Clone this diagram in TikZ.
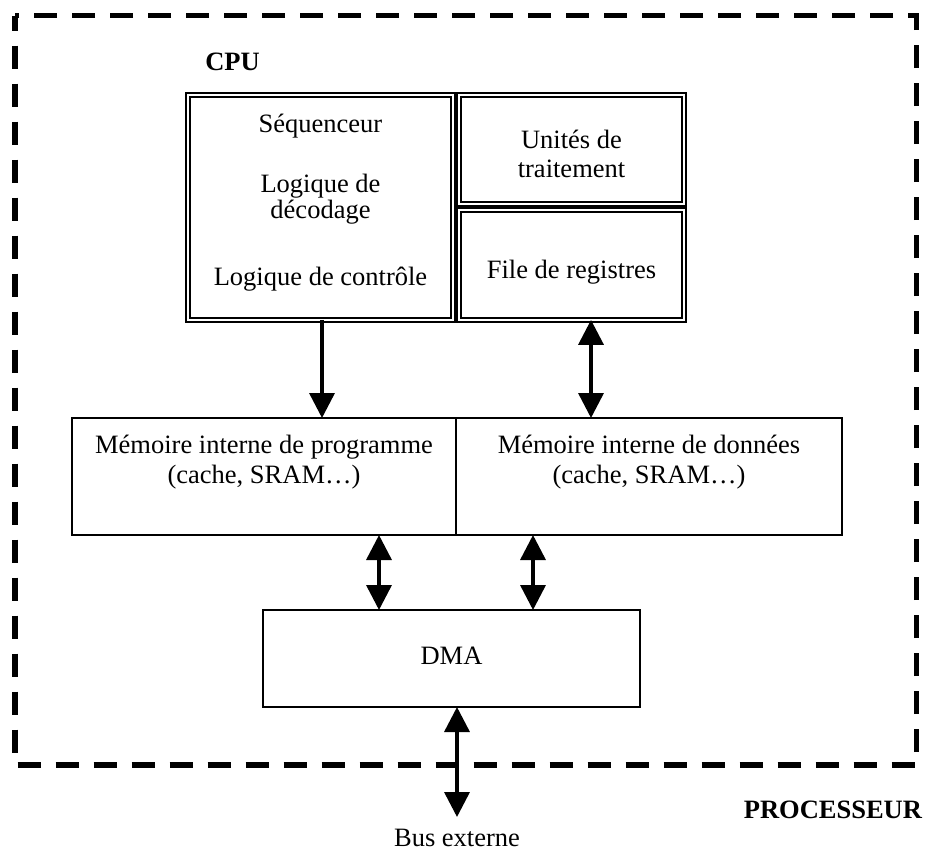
\documentclass[tikz,border=0pt]{standalone}
\usepackage{fontspec}
\setmainfont{Liberation Serif}
\usetikzlibrary{arrows.meta}
\begin{document}
\begin{tikzpicture}[x=1pt,y=-1pt,
  every node/.style={font=\fontsize{26.5}{31}\selectfont, inner sep=0pt, outer sep=0pt},
  dbox/.style={draw, double, double distance=2.6pt, line width=1.8pt},
  sbox/.style={draw, line width=1.8pt},
  txt/.style={anchor=base, align=center},
  frame/.style={line width=5.5pt, dash pattern=on 23pt off 15pt},
  tip/.tip={Triangle[width=25pt,length=25pt]},
  arr/.style={line width=3.5pt, -tip},
  darr/.style={line width=3.5pt, tip-tip}]
\useasboundingbox (0,0) rectangle (926,852);

% processor frame
\draw[frame, dash phase=8pt] (15,15.5) rectangle (916.5,765);
\node[txt, font=\fontsize{26.5}{31}\selectfont\bfseries] (cpulbl) at (232.5,70) {CPU};
\node[txt, font=\fontsize{26.5}{31}\selectfont\bfseries, anchor=base east] (proclbl) at (922,818) {PROCESSEUR};

% CPU blocks
\node[dbox, minimum width=264.8pt, minimum height=224.8pt] (ctl) at (320.5,207.5) {};
\node[dbox, minimum width=224.8pt, minimum height=108.8pt] (ut) at (571.5,149.5) {};
\node[dbox, minimum width=224.8pt, minimum height=109.8pt] (reg) at (571.5,265) {};

\node[txt] (t1) at (320.5,132) {Séquenceur};
\node[txt] (t2) at (320.5,192) {Logique de};
\node[txt] (t3) at (320.5,218) {décodage};
\node[txt] (t4) at (320.5,285) {Logique de contrôle};
\node[txt] (t5) at (571.5,148) {Unités de};
\node[txt] (t6) at (571.5,177) {traitement};
\node[txt] (t7) at (571.5,278) {File de registres};

% memories
\node[sbox, minimum width=384pt, minimum height=117pt] (mp) at (264,476.5) {};
\node[sbox, minimum width=386pt, minimum height=117pt] (md) at (649,476.5) {};
\node[txt] (m1) at (264,453) {Mémoire interne de programme};
\node[txt] (m2) at (264,483) {(cache, SRAM…)};
\node[txt] (m3) at (649,453) {Mémoire interne de données};
\node[txt] (m4) at (649,483) {(cache, SRAM…)};

% DMA
\node[sbox, minimum width=377pt, minimum height=97pt] (dma) at (451.5,658.5) {};
\node[txt] (dmat) at (451.5,664) {DMA};

\node[txt] (bus) at (457,846) {Bus externe};
\coordinate (busend) at (457,817);

% connectors
\coordinate (xa) at (322,0);
\coordinate (xb) at (591,0);
\coordinate (xc) at (379,0);
\coordinate (xd) at (533,0);
\coordinate (xe) at (457,0);
\draw[arr] (xa |- ctl.south) -- (xa |- mp.north);
\draw[darr] (xb |- reg.south) -- (xb |- md.north);
\draw[darr] (xc |- mp.south) -- (xc |- dma.north);
\draw[darr] (xd |- md.south) -- (xd |- dma.north);
\draw[darr] (xe |- dma.south) -- (busend);
\end{tikzpicture}
\end{document}
